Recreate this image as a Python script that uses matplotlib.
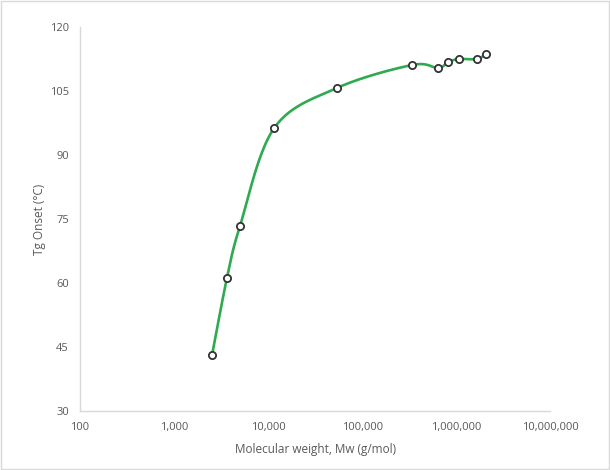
import numpy as np
import matplotlib
matplotlib.use("Agg")
import matplotlib.pyplot as plt
from matplotlib.ticker import FixedLocator, FuncFormatter

# data
mw = [2540, 3660, 5040, 11600, 53900, 340000, 644000, 823000, 1070000, 1660000, 2090000]
tg = [43.1, 61.2, 73.4, 96.3, 105.7, 111.1, 110.4, 111.8, 112.5, 112.5, 113.7]

xticks = [100, 1000, 10000, 100000, 1000000, 10000000]
yticks = [30, 45, 60, 75, 90, 105, 120]

plt.rcParams['font.family'] = ['Open Sans', 'DejaVu Sans']


def smooth(px, py, n=30):
    # catmull-rom through points, like excel's smoothed line
    p = np.column_stack([px, py])
    p = np.vstack([p[0], p, p[-1]])
    out = []
    for i in range(1, len(p) - 2):
        p0, p1, p2, p3 = p[i - 1], p[i], p[i + 1], p[i + 2]
        t = np.linspace(0, 1, n)[:, None]
        seg = 0.5 * ((2 * p1) + (-p0 + p2) * t + (2 * p0 - 5 * p1 + 4 * p2 - p3) * t ** 2
                     + (-p0 + 3 * p1 - 3 * p2 + p3) * t ** 3)
        out.append(seg)
    out = np.vstack(out)
    return out[:, 0], out[:, 1]


lx, ly = smooth(np.log10(mw), np.array(tg))

fig = plt.figure(figsize=(6.1, 4.7), dpi=100)
ax = fig.add_axes([0.131, 0.1255, 0.771, 0.817])

ax.plot(10 ** lx, ly, color='#2eaa50', lw=1.9, zorder=2)
ax.plot(mw, tg, 'o', ms=5.2, mfc='white', mec='#333333', mew=1.3, zorder=3)

ax.set_xscale('log')
ax.set_xlim(100, 10000000)
ax.set_ylim(30, 120)
ax.xaxis.set_major_locator(FixedLocator(xticks))
ax.xaxis.set_minor_locator(FixedLocator([]))
ax.xaxis.set_major_formatter(FuncFormatter(lambda v, p: f"{int(round(v)):,}"))
ax.set_yticks(yticks)

for s in ['top', 'right']:
    ax.spines[s].set_visible(False)
for s in ['left', 'bottom']:
    ax.spines[s].set_color('#d9d9d9')
    ax.spines[s].set_linewidth(1.0)
ax.tick_params(length=0, labelsize=8, labelcolor='#595959', pad=8)

ax.set_xlabel('Molecular weight, Mw (g/mol)', fontsize=8.5, color='#595959', labelpad=7)
ax.set_ylabel('Tg Onset (°C)', fontsize=8.5, color='#595959', labelpad=3)

fig.patches.append(plt.Rectangle((0.002, 0.002), 0.996, 0.996, transform=fig.transFigure,
                                 fill=False, edgecolor='#d9d9d9', lw=1))

fig.savefig('out.png', dpi=100)
